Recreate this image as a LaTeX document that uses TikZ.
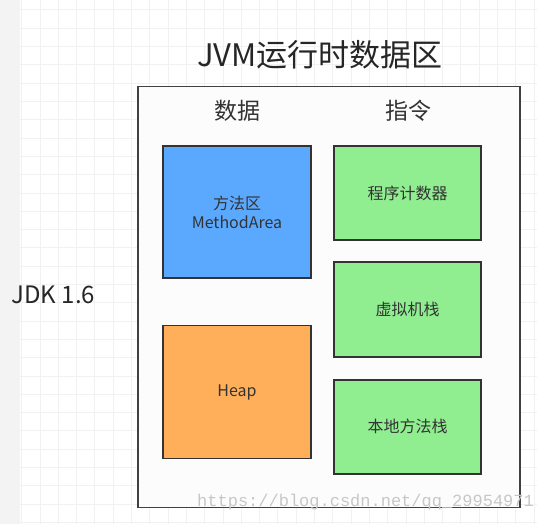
\documentclass[tikz,border=0pt]{standalone}
\usepackage{fontspec}
\setmainfont{Noto Sans CJK SC}
\newfontfamily\markfont{Liberation Mono}
\usetikzlibrary{positioning}

\definecolor{areablue}{HTML}{5BA9FF}
\definecolor{heaporange}{HTML}{FFAF5A}
\definecolor{stackgreen}{HTML}{90EE90}
\definecolor{gridgray}{HTML}{F1F1F1}
\definecolor{edgegray}{HTML}{333333}

\begin{document}
\begin{tikzpicture}[
    x=1pt, y=-1pt,
    region/.style={draw=edgegray, line width=1.8pt, align=center, font=\fontsize{16}{19}\selectfont, text=edgegray},
    header/.style={font=\fontsize{23}{27}\selectfont, text=black!80}
]

% -------------------------
% Canvas and Grid
% -------------------------
\useasboundingbox (0,0) rectangle (537,524);
\fill[white] (0,0) rectangle (537,524);
\fill[gridgray!90] (0,0) rectangle (20,524);
\foreach \gx in {21.7,40,...,537} {
    \draw[gridgray, line width=1pt] (\gx,0) -- (\gx,524);
}
\foreach \gy in {10,28.3,...,524} {
    \draw[gridgray, line width=1pt] (20,\gy) -- (537,\gy);
}

% -------------------------
% Title and Side Label
% -------------------------
\node[font=\fontsize{31}{36}\selectfont, text=black!85] (Title) at (320,55) {JVM运行时数据区};
\node[font=\fontsize{24}{28}\selectfont, text=black!85, anchor=west] (Version) at (8,295) {JDK 1.6};

% -------------------------
% Runtime Area Envelope
% -------------------------
\node[draw=black!75, line width=1.8pt, fill=white!99!black, minimum width=382, minimum height=421] (Runtime) at (329,297) {};
\node[header] (DataHead) at (237,111) {数据};
\node[header] (CodeHead) at (408,111) {指令};

% -------------------------
% Data Regions (Left Column)
% -------------------------
\node[region, fill=areablue, minimum width=148, minimum height=132] (MethodArea) at (237,212) {方法区\\MethodArea};
\node[region, fill=heaporange, minimum width=148, minimum height=133] (Heap) at (237,392) {Heap};

% -------------------------
% Instruction Regions (Right Column)
% -------------------------
\node[region, fill=stackgreen, minimum width=147, minimum height=94] (Counter) at (407.5,193) {程序计数器};
\node[region, fill=stackgreen, minimum width=147, minimum height=95, below=20pt of Counter] (VMStack) {虚拟机栈};
\node[region, fill=stackgreen, minimum width=147, minimum height=94, below=21pt of VMStack] (NativeStack) {本地方法栈};

% -------------------------
% Watermark
% -------------------------
\node[anchor=west, inner sep=0pt, text=black!22, font=\markfont\fontsize{17}{20}\selectfont] (Mark) at (197,502) {https://blog.csdn.net/qq\_29954971};

\end{tikzpicture}
\end{document}
